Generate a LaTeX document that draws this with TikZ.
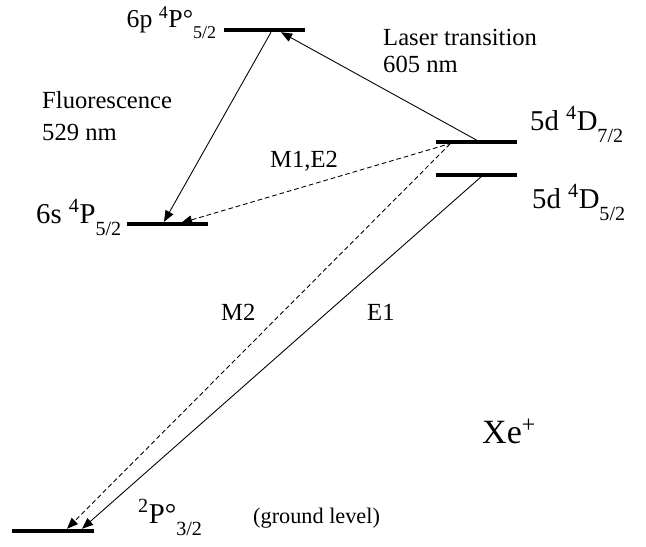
\documentclass[tikz,border=0pt]{standalone}
\usepackage{fontspec}
\setmainfont{Liberation Serif}
\usetikzlibrary{calc,positioning,arrows.meta}
\newcommand{\subidx}[1]{\raisebox{-0.3em}{\textsubscript{#1}}}

\begin{document}
\begin{tikzpicture}[x=0.03cm, y=-0.03cm,
  level/.style={fill=black, inner sep=0pt, minimum height=3.4pt, minimum width=2.43cm},
  levtext/.style={inner sep=0pt, font=\fontsize{24.5}{28}\selectfont},
  ann/.style={inner sep=0pt, align=left, font=\fontsize{21}{23}\selectfont},
  trans/.style={line width=0.75pt, -{Triangle[length=9.5pt,width=7.5pt]}},
  forbid/.style={trans, dash pattern=on 4pt off 2.5pt}]
  \useasboundingbox (0,0) rectangle (646,546);

  % energy levels
  \node[level] (p6) at (264,30) {};
  \node[level] (s6) at (167,224) {};
  \node[level] (d7) at (476,142) {};
  \node[level] (d5) at (476,175) {};
  \node[level] (gnd) at (53,531) {};

  % level names
  \node[levtext, anchor=base east, font=\fontsize{22}{26}\selectfont] (p6lab) at (217,27) {6p \textsuperscript{4}P°\subidx{5/2}};
  \node[levtext, anchor=base east] (s6lab) at (122,223) {6s \textsuperscript{4}P\subidx{5/2}};
  \node[levtext, anchor=base west] (d7lab) at (530,130) {5d \textsuperscript{4}D\subidx{7/2}};
  \node[levtext, anchor=base west] (d5lab) at (532,208) {5d \textsuperscript{4}D\subidx{5/2}};
  \node[levtext, anchor=base west] (gndlab) at (138,523) {\textsuperscript{2}P°\subidx{3/2}};
  \node[ann, anchor=base west, font=\fontsize{19}{22}\selectfont] (gndnote) at (253,523) {(ground level)};

  % transitions
  \draw[trans] ($(d7.center)+(4,0)$) -- ($(p6.south)+(17,0)$);
  \draw[trans] ($(p6.south)+(7,0)$) -- ($(s6.north)+(-3,0)$);
  \draw[forbid] ($(d7.center)+(-24,1)$) -- ($(s6.center)+(14,-1)$);
  \draw[forbid] ($(d7.center)+(-26,2)$) -- ($(gnd.north)+(14,0)$);
  \draw[trans] ($(d5.center)+(6,1)$) -- ($(gnd.north)+(29,0)$);

  % transition labels
  \node[ann, anchor=base west, font=\fontsize{21}{23}\selectfont] (lastxt) at (383,72) {Laser transition\\605 nm};
  \node[ann, anchor=base west, font=\fontsize{21}{27}\selectfont] (fluotxt) at (42,140) {Fluorescence\\529 nm};
  \node[ann, anchor=base west] (m1txt) at (270,167) {M1,E2};
  \node[ann, anchor=base west] (m2txt) at (221,320) {M2};
  \node[ann, anchor=base west] (e1txt) at (367,320) {E1};
  \node[ann, anchor=base west, font=\fontsize{29}{32}\selectfont] (ion) at (482,443) {Xe\textsuperscript{+}};
\end{tikzpicture}
\end{document}
